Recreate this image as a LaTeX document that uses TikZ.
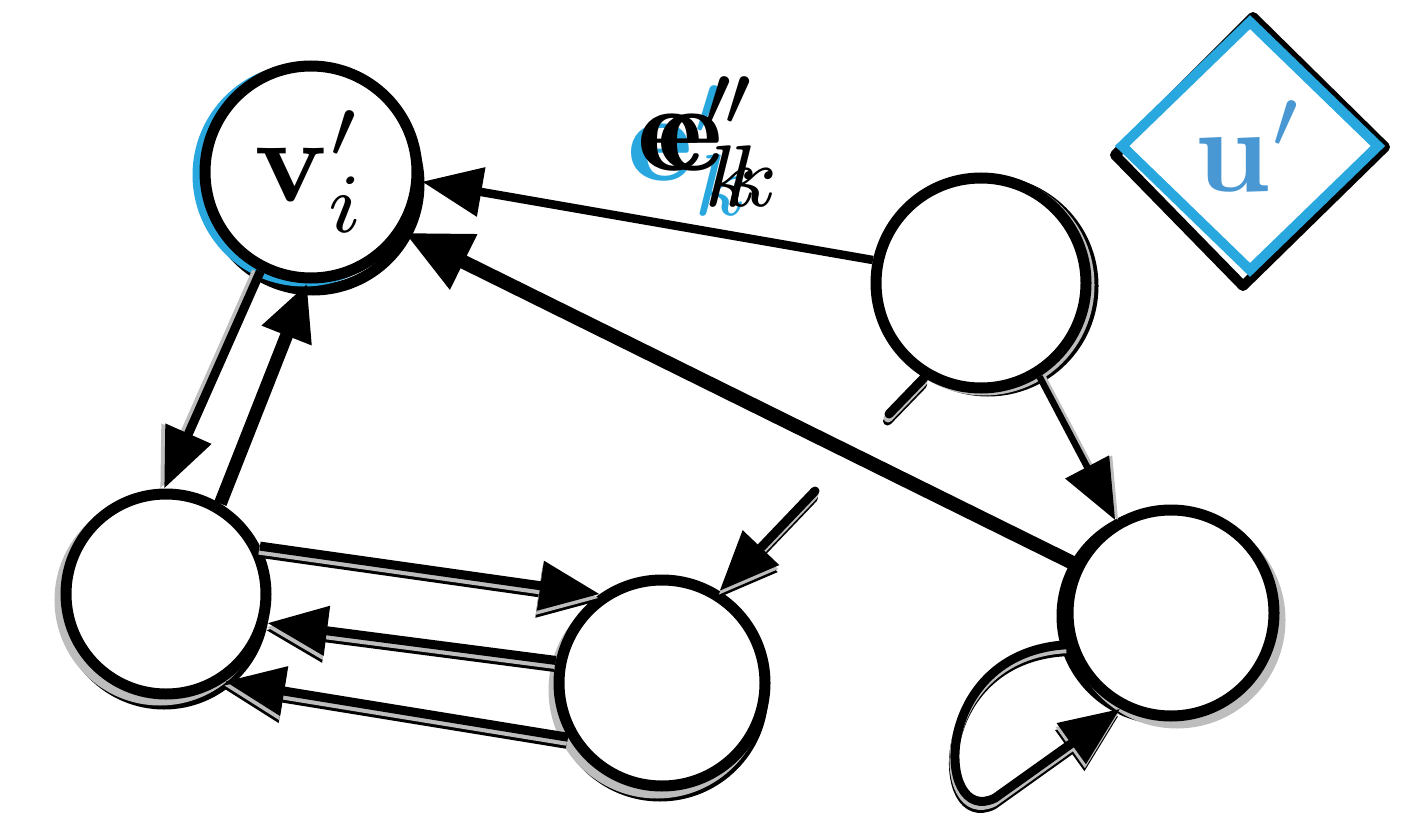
\documentclass[tikz,border=0pt]{standalone}
\usetikzlibrary{arrows.meta,shapes.geometric,backgrounds,calc}
\definecolor{ringblue}{HTML}{29A8E0}
\definecolor{textblue}{HTML}{4A98D3}
\definecolor{shadowgray}{HTML}{BDBDBD}
% link drawn three times: dark copy, grey copy, then the line itself
\newcommand\dropped[2]{%
  \draw[#1,dropblack]#2;
  \draw[#1,dropgray]#2;
  \draw[#1]#2;}
\begin{document}
\begin{tikzpicture}[x=1pt,y=-1pt,
  vertex/.style={circle, draw=black, line width=11pt, fill=white,
    inner sep=0pt, minimum size=#1},
  vertex/.default=206pt,
  link/.style={line width=9pt, line cap=butt,
    -{Triangle[length=60pt,width=48pt]}},
  heavy/.style={line width=14pt, -{Triangle[length=66pt,width=58pt]}},
  dropblack/.style={draw=black, transform canvas={xshift=-1.5pt,yshift=-7pt}},
  dropgray/.style={draw=shadowgray, transform canvas={xshift=-1pt,yshift=-4pt}},
  ring/.style={line width=11pt},
  elabel/.style={anchor=base west, inner sep=0pt},
]
\useasboundingbox (0,0) rectangle (1404,813);

% vertices
\node[vertex=212pt] (A) at (311,172) {\scalebox{12}{$\mathbf{v}'_i$}};
\node[vertex=210pt] (B) at (981,283) {};
\node[vertex=200pt] (C) at (166,594) {};
\node[vertex=206pt] (D) at (662,683) {};
\node[vertex=206pt] (E) at (1171,613) {};
\node[diamond, draw=ringblue, line width=10pt, fill=white, inner sep=0pt,
  minimum width=260pt, minimum height=252pt] (U) at (1250,146)
  {\scalebox{12}{\color{textblue}$\mathbf{u}'$}};

% shadows behind the vertices
\begin{scope}[on background layer]
  \draw[ring] ($(A)+(2,12)$) circle[radius=106pt];
  \draw[ring, draw=ringblue] ($(A)+(-7,3)$) circle[radius=106pt];
  \draw[ring] ($(B)+(7,3)$) circle[radius=105pt];
  \draw[ring, draw=shadowgray] ($(B)+(3,2)$) circle[radius=105pt];
  \draw[ring] ($(C)+(-2,10)$) circle[radius=100pt];
  \draw[ring, draw=shadowgray] ($(C)+(-6,6)$) circle[radius=100pt];
  \draw[ring] ($(D)+(-2,10)$) circle[radius=103pt];
  \draw[ring, draw=shadowgray] ($(D)+(-5,7)$) circle[radius=103pt];
  \draw[ring] ($(E)+(-6,3)$) circle[radius=103pt];
  \draw[ring, draw=shadowgray] ($(E)+(6,7)$) circle[radius=103pt];
  \draw[line width=10pt, line join=round]
    ($(U)+(3,-129)$) -- ($(U)+(135,1)$) -- ($(U)+(-7,140)$)
    -- ($(U)+(-135,9)$) -- cycle;
\end{scope}

% free ends
\coordinate (stub) at (889,414);
\coordinate (feed) at (815,491);

% edge labels
\node[elabel] (lb) at (627,180) {\scalebox{12.5}{\color{ringblue}$\mathbf{e}'_k$}};
\node[elabel] (l1) at (637,171) {\scalebox{12.5}{$\mathbf{e}'_k$}};
\node[elabel] (l2) at (657,171) {\scalebox{12.5}{$\mathbf{e}'_k$}};

% connectors
\draw[link, line width=8.5pt] (B.168) -- (A.-5);
\draw[heavy] (E.153) -- (A.-33);
\draw[link, draw=shadowgray, transform canvas={xshift=-4pt}] (A.243) -- (C.91);
\draw[link] (A.243) -- (C.91);
\draw[link, line width=13pt, -{Triangle[length=56pt,width=50pt]}] (C.59) -- (A.-92);
\dropped{link}{(C.27) -- (D.125)}
\dropped{link}{(D.168) -- (C.-16)}
\dropped{link}{(D.210) -- (C.-56)}
\draw[link, line width=6.5pt, draw=shadowgray, transform canvas={xshift=3pt}] (B.-58) -- (E.121);
\draw[link, line width=6.5pt] (B.-58) -- (E.121);
\dropped{line width=9pt, line cap=round}{(B.239) -- (stub)}
\dropped{link, line cap=round}{(feed) -- (D.58.6)}
\dropped{link}{(E.197) .. controls (930,652) and (935,828) .. (995,798) -- (E.242)}
\end{tikzpicture}
\end{document}
